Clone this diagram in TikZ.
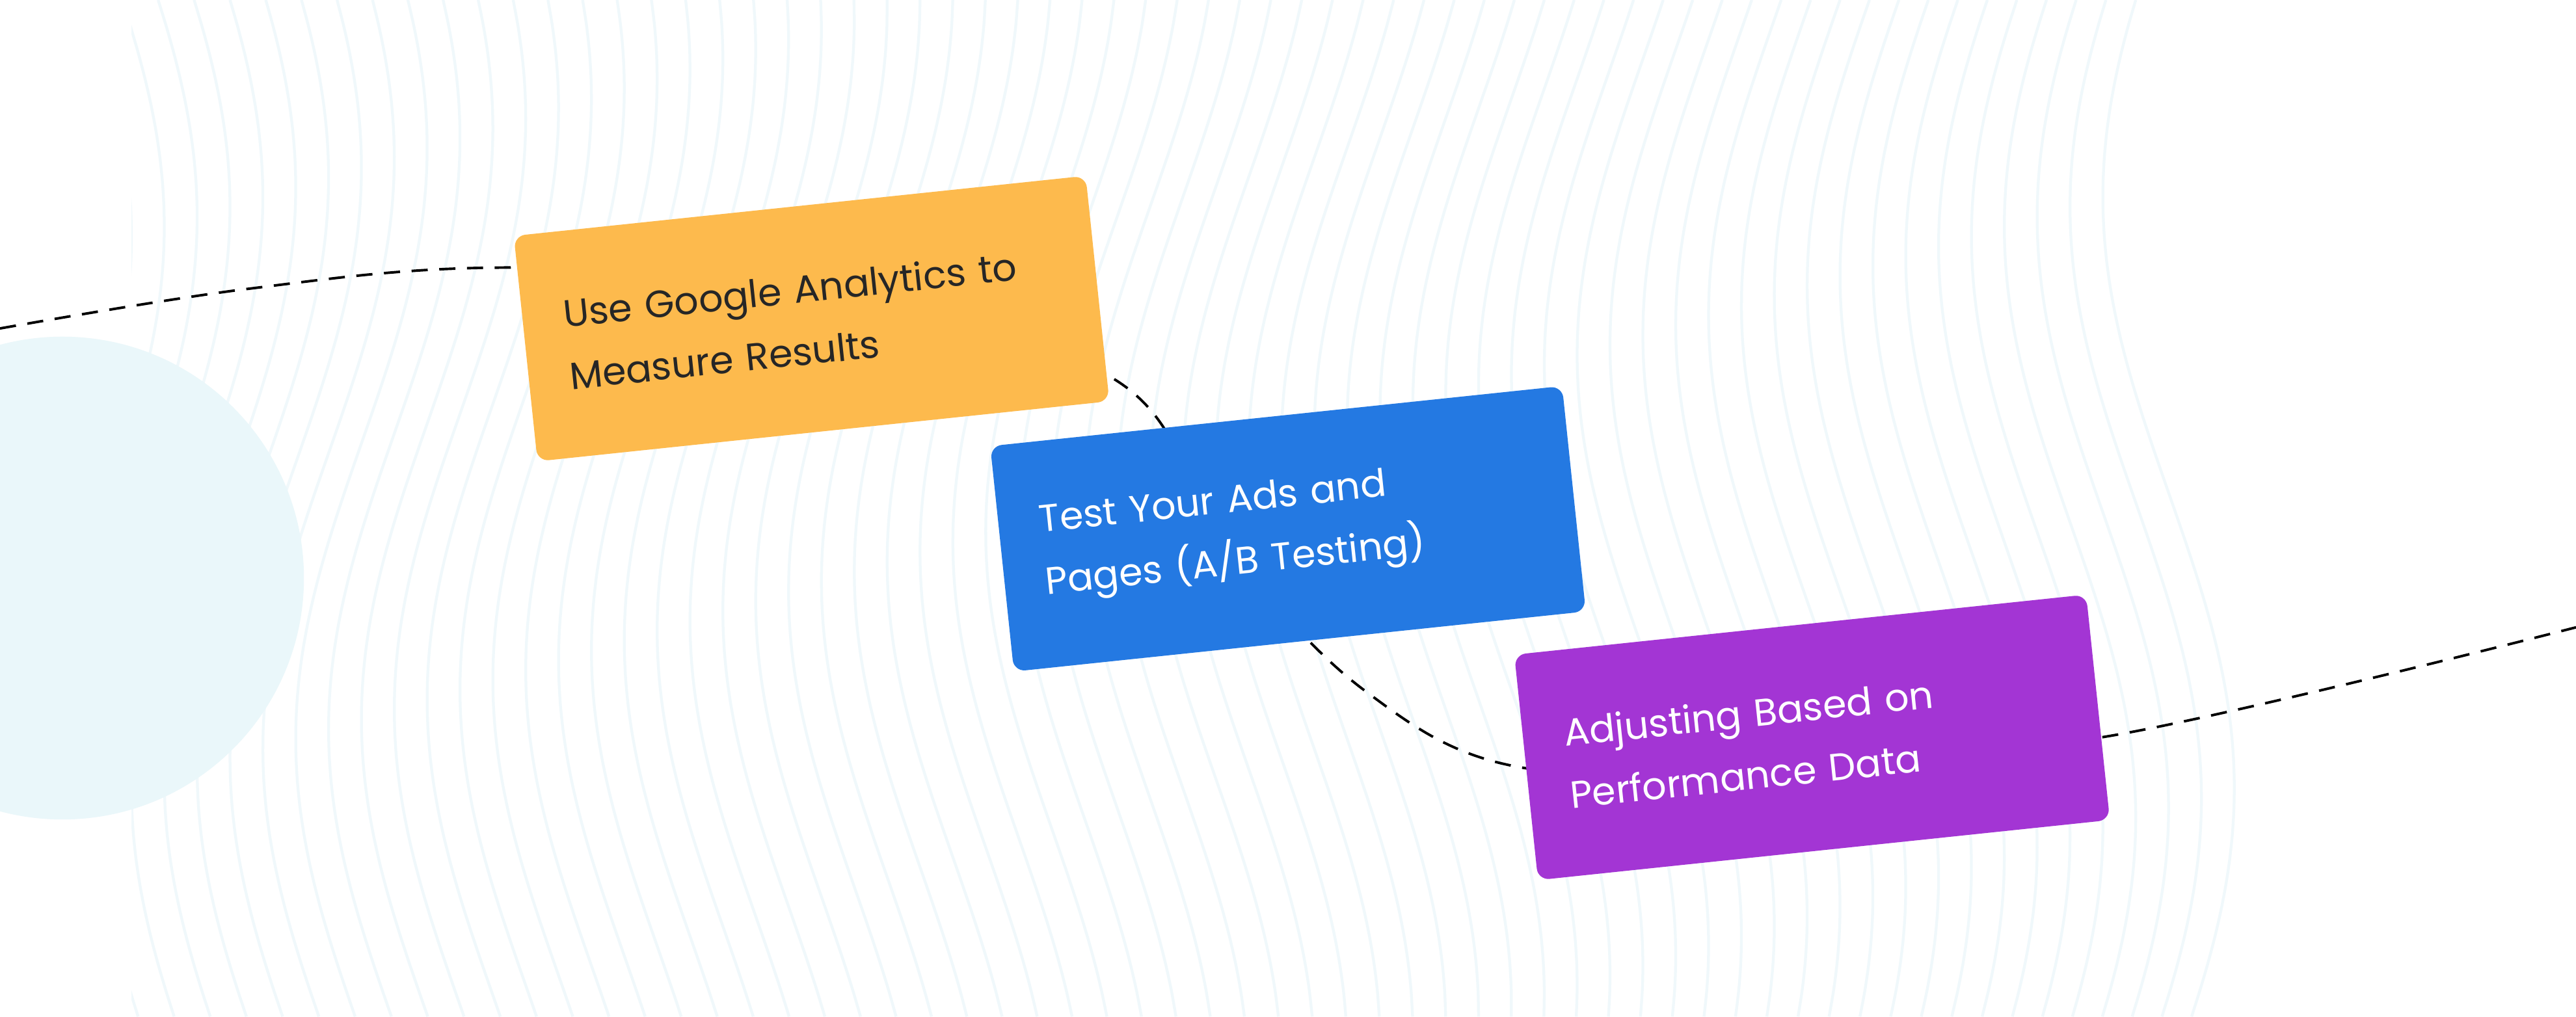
\documentclass[tikz,border=0pt]{standalone}
\usepackage{fontspec}
\setmainfont{Poppins}
\definecolor{waveblue}{HTML}{F0F8FB}
\definecolor{dotcyan}{HTML}{EAF7FA}
\definecolor{stepyellow}{HTML}{FDBA4D}
\definecolor{stepblue}{HTML}{2479E2}
\definecolor{steppurple}{HTML}{A335D4}
\tikzset{
 card/.style={rounded corners=5pt, rotate=6, minimum width=87.5mm, minimum height=34.5mm,
  text width=75mm, align=left, font=\fontsize{16.5}{27}\selectfont, inner sep=0pt}
}
\begin{document}
\begin{tikzpicture}[x=0.25mm,y=-0.25mm]
 \useasboundingbox[fill=white] (0,0) rectangle (1568,619);
 \begin{scope}
  \clip (80,0) rectangle (1400,619);
  \foreach \i in {0,...,70} {
   \draw[waveblue, line width=1.2pt] plot[domain=0:619, samples=40, smooth]
    ({20*\i - 80 + 40*sin(\x*0.5+\i*3)}, \x);
  }
 \end{scope}
 \fill[dotcyan] (38,352) circle (147);
 \draw[dashed, line width=1.1pt, dash pattern=on 7pt off 5pt] plot[smooth, tension=0.6] coordinates
  {(0,200) (150,176) (300,163) (500,172) (680,232) (745,330) (830,420) (930,468) (1100,462) (1285,448) (1568,382)};
 \node[card, fill=stepyellow, text=black!85] (ga) at (494,194)
  {Use Google Analytics to\\Measure Results};
 \node[card, fill=stepblue, text=white] (ab) at (784,322)
  {Test Your Ads and\\Pages (A/B Testing)};
 \node[card, fill=steppurple, text=white] (adj) at (1103,449)
  {Adjusting Based on\\Performance Data};
\end{tikzpicture}
\end{document}
